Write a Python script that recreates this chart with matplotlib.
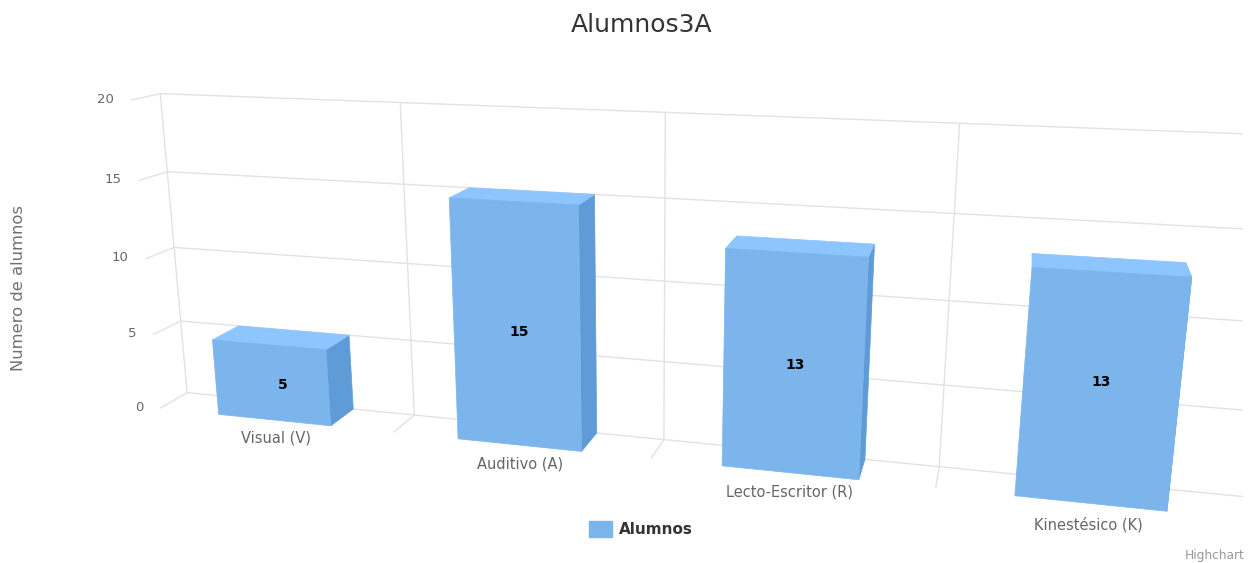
import numpy as np
import matplotlib
matplotlib.use("Agg")
import matplotlib.pyplot as plt
from matplotlib.patches import Polygon, Patch, Rectangle

# ---- data ----
title = "Alumnos3A"
y_axis_title = "Numero de alumnos"
series_name = "Alumnos"
categories = ["Visual (V)", "Auditivo (A)", "Lecto-Escritor (R)", "Kinestésico (K)"]
values = [5, 15, 13, 13]
y_ticks = [0, 5, 10, 15, 20]
credit = "Highchart"

# ---- style ----
W, H = 1258, 563
FRONT, TOP, SIDE = "#7cb5ec", "#8cc5ff", "#5f9bd6"
GRID = "#e2e2e2"
BAR_LO, BAR_HI = 0.26, 0.74   # bar extent inside a category slot
PLOT_RIGHT = 1243
label_nudge = [(-1, 10), (-6, 13), (-2, 8), (2, 1)]  # data-label shift in pixels
cat_nudge = [(2, -1), (1, 0), (0, 0), (-2, 2)]       # category-label shift in pixels

# camera calibration: (category axis, value axis, depth) -> screen pixel of the 3D frame
calib = [
    (0, 20, 0, 160, 93), (0, 15, 0, 167, 172), (0, 10, 0, 175, 248), (0, 5, 0, 181, 321), (0, 0, 0, 187, 393),
    (1, 20, 0, 400, 102), (1, 0, 0, 413, 415),
    (2, 20, 0, 666, 112), (2, 0, 0, 665, 439),
    (3, 20, 0, 959, 124), (3, 0, 0, 939, 467),
    (0, 20, 1, 130, 100), (0, 15, 1, 139, 181), (0, 10, 1, 146, 259), (0, 5, 1, 153, 335), (0, 0, 1, 160, 408),
    (1, 0, 1, 393, 432), (2, 0, 1, 651, 458), (3, 0, 1, 936, 488),
]


def fit_camera(rows):
    A = []
    for u, v, d, x, y in rows:
        x, y = x / 1000, y / 1000
        p = [u, v / 20, d, 1]
        A.append(p + [0, 0, 0, 0] + [-x * c for c in p])
        A.append([0, 0, 0, 0] + p + [-y * c for c in p])
    return np.linalg.svd(np.array(A))[2][-1].reshape(3, 4)


CAM = fit_camera(calib)


def proj(u, v, d):
    q = CAM @ np.array([u, v / 20, d, 1.0])
    return q[0] / q[2] * 1000, q[1] / q[2] * 1000


fig = plt.figure(figsize=(W / 100, H / 100), dpi=100, facecolor="white")
ax = fig.add_axes([0, 0, 1, 1])
ax.set_xlim(0, W)
ax.set_ylim(H, 0)
ax.axis("off")
clip = Rectangle((0, 0), PLOT_RIGHT, H, transform=ax.transData)


def line(a, b, **kw):
    xa, ya = proj(*a)
    xb, yb = proj(*b)
    ln, = ax.plot([xa, xb], [ya, yb], color=GRID, lw=1.0, solid_capstyle="butt", **kw)
    ln.set_clip_path(clip)


# grid on the back wall + ticks towards the viewer
n = len(categories)
for t in y_ticks:
    line((0, t, 0), (n, t, 0), zorder=1)
    line((0, t, 0), (0, t, 1), zorder=1)
    x, y = proj(0, t, 1)
    ax.text(x - 17, y - 1, str(t), ha="right", va="center", fontsize=9.5, color="#666666")
for i in range(n):
    line((i, y_ticks[0], 0), (i, y_ticks[-1], 0), zorder=1)
    if i:
        line((i, 0, 0), (i, 0, 1), zorder=1)

# bars
for i, (cat, val) in enumerate(zip(categories, values)):
    u0, u1 = i + BAR_LO, i + BAR_HI
    faces = [
        ([(u1, 0, 0), (u1, val, 0), (u1, val, 1), (u1, 0, 1)], SIDE, 2),
        ([(u0, val, 0), (u1, val, 0), (u1, val, 1), (u0, val, 1)], TOP, 3),
        ([(u0, 0, 1), (u1, 0, 1), (u1, val, 1), (u0, val, 1)], FRONT, 4),
    ]
    for pts, col, z in faces:
        ax.add_patch(Polygon([proj(*p) for p in pts], closed=True, facecolor=col,
                             edgecolor=col, lw=0.5, zorder=z))
    x, y = proj(i + 0.5, val / 2, 0.5)
    dx, dy = label_nudge[i]
    ax.text(x + dx, y + dy, str(val), ha="center", va="center", fontsize=10, fontweight="bold",
            color="black", zorder=6)
    x, y = proj(i + 0.5, 0, 1)
    dx, dy = cat_nudge[i]
    ax.text(x + dx, y + 19 + dy, cat, ha="center", va="center", fontsize=10.5, color="#666666", zorder=6)

# titles
ax.text(642, 25, title, ha="center", va="center", fontsize=18, color="#333333")
ax.text(19, 288, y_axis_title, rotation=90, ha="center", va="center", fontsize=11.8, color="#707070")

# legend
ax.legend(handles=[Patch(facecolor=FRONT, edgecolor=FRONT, label=series_name)],
          loc="center", bbox_to_anchor=(641 / W, 1 - 529 / H), frameon=False,
          prop={"weight": "bold", "size": 11}, labelcolor="#333333",
          handlelength=1.5, handleheight=1.3, handletextpad=0.45)

# credit, as far as it is visible in the source
ax.text(1185, 555, credit, ha="left", va="center", fontsize=8.7, color="#999999")

fig.savefig("out.png", dpi=100, facecolor="white")
